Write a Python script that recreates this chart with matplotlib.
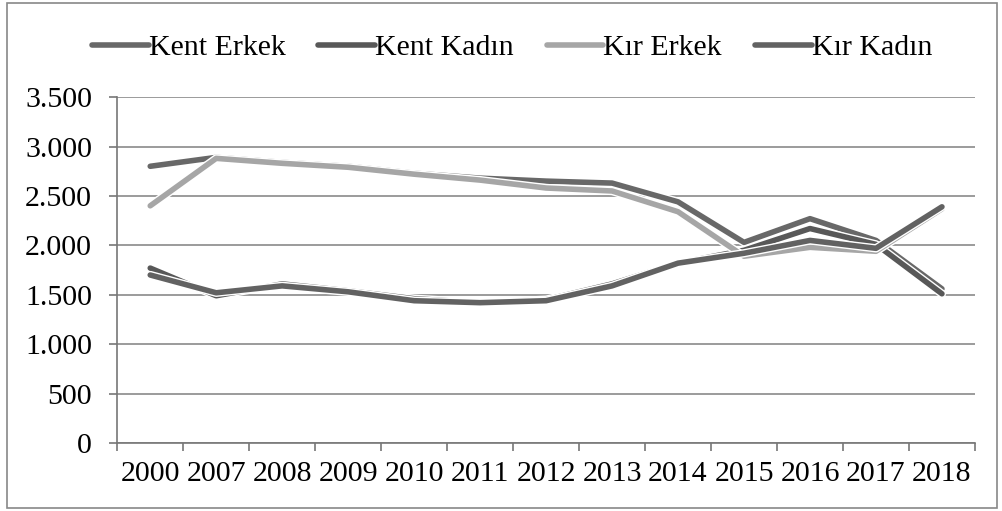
import matplotlib.pyplot as plt
import matplotlib.patheffects as pe
from matplotlib.patches import Rectangle
import numpy as np

years = ['2000', '2007', '2008', '2009', '2010', '2011', '2012',
         '2013', '2014', '2015', '2016', '2017', '2018']

kent_erkek = [2800, 2890, 2840, 2800, 2730, 2680, 2650, 2630, 2440, 2030, 2270, 2050, 1560]
kent_kadin = [1770, 1490, 1610, 1540, 1460, 1420, 1450, 1610, 1820, 1950, 2170, 2010, 1510]
kir_erkek = [2400, 2880, 2830, 2790, 2720, 2660, 2580, 2550, 2340, 1890, 1980, 1940, 2370]
kir_kadin = [1700, 1520, 1590, 1530, 1440, 1420, 1440, 1590, 1820, 1920, 2050, 1970, 2390]

series = [
    ('Kent Erkek', kent_erkek, '#686868'),
    ('Kent Kadın', kent_kadin, '#585858'),
    ('Kır Erkek', kir_erkek, '#a6a6a6'),
    ('Kır Kadın', kir_kadin, '#626262'),
]

plt.rcParams['font.family'] = ['Liberation Serif', 'DejaVu Serif']

fig = plt.figure(figsize=(10.02, 5.11), dpi=100)
ax = fig.add_axes([0.117, 0.133, 0.856, 0.677])

x = np.arange(len(years))
for name, vals, col in series:
    ax.plot(x, vals, color=col, lw=4.0, label=name, solid_capstyle='round',
            path_effects=[pe.Stroke(linewidth=6.0, foreground='white'), pe.Normal()])

ax.set_xlim(-0.5, len(years) - 0.5)
ax.set_ylim(0, 3500)
ax.set_yticks(np.arange(0, 3501, 500))
ax.set_yticklabels([f'{v:,}'.replace(',', '.') for v in range(0, 3501, 500)])
ax.set_xticks(x)
ax.set_xticklabels(years)
ax.set_xticks(np.arange(-0.5, len(years), 1), minor=True)

ax.yaxis.grid(True, color='#8a8a8a', lw=1.2)
ax.set_axisbelow(True)
for s in ['top', 'right']:
    ax.spines[s].set_visible(False)
for s in ['left', 'bottom']:
    ax.spines[s].set_color('#777777')
    ax.spines[s].set_linewidth(1.2)

ax.tick_params(axis='x', which='major', length=0, labelsize=21.5, pad=13)
ax.tick_params(axis='x', which='minor', length=6, color='#777777', width=1.2)
ax.tick_params(axis='y', length=6, color='#777777', width=1.2, labelsize=21.5, pad=12)

leg = fig.legend(loc='upper center', bbox_to_anchor=(0.511, 0.985), ncol=4, frameon=False,
                 fontsize=21.5, handlelength=1.9, handletextpad=0.0, columnspacing=1.1)

# outer chart frame
fig.patches.append(Rectangle((0.007, 0.006), 0.988, 0.988, transform=fig.transFigure,
                             fill=False, edgecolor='#888888', lw=1.2))

fig.savefig('out.png', dpi=100)
